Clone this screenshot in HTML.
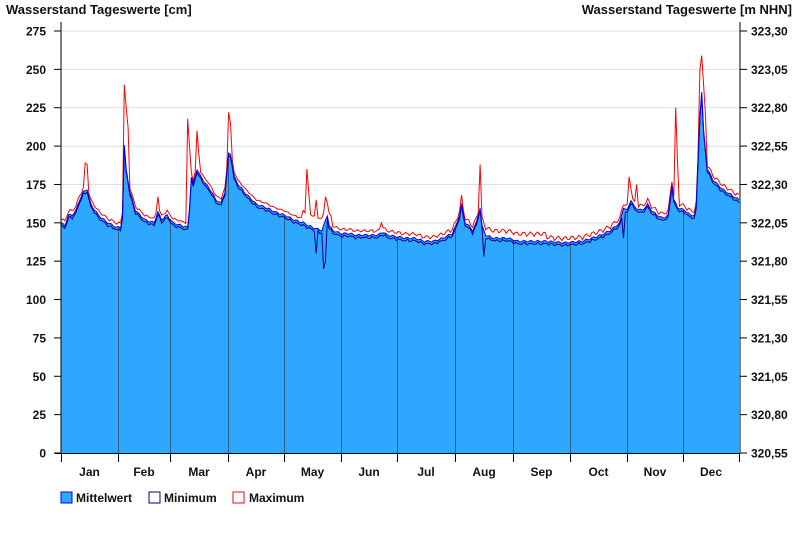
<!DOCTYPE html>
<html><head><meta charset="utf-8"><style>
body{margin:0;background:#fff;}
svg{display:block;font-family:"Liberation Sans",Arial,sans-serif;font-weight:bold;}
</style></head><body>
<svg id="s" width="800" height="550" viewBox="0 0 800 550">
<rect width="800" height="550" fill="#fff"/>
<text x="6" y="14" font-size="13" fill="#111">Wasserstand Tageswerte [cm]</text>
<text x="792" y="14" font-size="13" fill="#111" text-anchor="end">Wasserstand Tageswerte [m NHN]</text>
<g id="grid"></g>
<path id="area" fill="#2ea8ff" stroke="none"/>
<g id="msep"></g>
<path id="pmax" fill="none" stroke="#ff0000" stroke-width="1"/>
<path id="pmin" fill="none" stroke="#000080" stroke-width="1"/>
<path id="pmean" fill="none" stroke="#0000ff" stroke-width="1"/>
<g id="axes"></g>
<g font-size="12" fill="#111">
<rect x="61" y="492" width="11" height="11" fill="#2ea8ff" stroke="#0000ff"/>
<text x="76" y="502">Mittelwert</text>
<rect x="149" y="492" width="11" height="11" fill="#fff" stroke="#000080"/>
<text x="164" y="502">Minimum</text>
<rect x="233" y="492" width="11" height="11" fill="#fff" stroke="#ff0000"/>
<text x="249" y="502">Maximum</text>
</g>
</svg>
<script>
var NS="http://www.w3.org/2000/svg";
function el(p,t,a,txt){var e=document.createElementNS(NS,t);for(var k in a)e.setAttribute(k,a[k]);if(txt!==undefined)e.textContent=txt;document.getElementById(p).appendChild(e);return e;}
var X0=61,X1=739,Y0=453,PX=(X1-X0)/364;
function Y(v){return Y0-v*422/275;}
function X(d){return X0+d*PX;}
var K=[[0,150],[2,148],[4,155],[6,155],[8,158],[10,165],[12,170],[14,172],[16,162],[20,155],[25,150],[30,147],[32,147],[33,155],[34,200],[35,185],[37,170],[40,158],[45,152],[50,150],[52,157],[54,152],[57,155],[60,150],[65,148],[68,147],[69,160],[70,180],[71,175],[73,185],[75,180],[78,175],[81,170],[83,165],[86,163],[88,170],[90,195],[91,195],[93,180],[95,175],[100,168],[105,162],[110,160],[115,157],[120,155],[125,152],[130,150],[135,147],[140,145],[141,148],[143,155],[144,148],[146,145],[150,143],[155,143],[158,142],[165,142],[170,142],[173,144],[175,142],[180,141],[185,140],[190,140],[195,138],[200,138],[205,140],[210,143],[212,148],[214,155],[215,162],[217,150],[219,148],[221,145],[223,150],[225,160],[226,148],[228,142],[232,140],[240,140],[245,138],[250,138],[260,138],[270,137],[280,138],[285,140],[290,142],[295,145],[300,150],[302,160],[304,158],[306,165],[308,160],[312,158],[315,162],[317,158],[320,155],[323,153],[326,155],[328,175],[329,165],[331,160],[335,158],[338,155],[340,155],[341,160],[343,220],[344,235],[345,210],[347,185],[350,178],[355,172],[360,168],[364,165]];
function interp(d){for(var i=1;i<K.length;i++){if(d<=K[i][0]){var a=K[i-1],b=K[i];return a[1]+(b[1]-a[1])*(d-a[0])/(b[0]-a[0]);}}return K[K.length-1][1];}
var rl=["320,55","320,80","321,05","321,30","321,55","321,80","322,05","322,30","322,55","322,80","323,05","323,30"];
for(var i=0;i<=11;i++){var v=i*25,y=Y(v);
 if(i>0)el("grid","line",{x1:X0,x2:740,y1:y,y2:y,stroke:"#dddddd"});
 el("axes","line",{x1:54,x2:61,y1:y,y2:y,stroke:"#000"});
 el("axes","text",{x:46,y:y+4.5,"font-size":12,"text-anchor":"end",fill:"#111"},String(v));
 el("axes","line",{x1:740,x2:747,y1:y,y2:y,stroke:"#000"});
 el("axes","text",{x:751,y:y+4.5,"font-size":12,fill:"#111"},rl[i]);
}
el("axes","line",{x1:61,x2:61,y1:22,y2:454,stroke:"#000"});
el("axes","line",{x1:740,x2:740,y1:22,y2:454,stroke:"#000"});
el("axes","line",{x1:55,x2:740,y1:453.5,y2:453.5,stroke:"#000"});
var mx=[61,118,170,228,284,341,397,455,513,570,627,683,739];
var mn=["Jan","Feb","Mar","Apr","May","Jun","Jul","Aug","Sep","Oct","Nov","Dec"];
for(var i=0;i<13;i++){
 if(i>0&&i<12){var d=(mx[i]-X0)/PX;el("msep","line",{x1:mx[i]+.5,x2:mx[i]+.5,y1:Y(interp(d)),y2:453,stroke:"#2a5f80","stroke-width":1});}
 el("axes","line",{x1:mx[i]+.5,x2:mx[i]+.5,y1:453,y2:462,stroke:"#000"});
 if(i<12)el("axes","text",{x:(mx[i]+mx[i+1])/2,y:476,"font-size":12,"text-anchor":"middle",fill:"#111"},mn[i]);
}
var spk={13:189,14:188,34:240,35:225,36:212,52:167,68:218,69:200,73:210,74:195,90:222,91:215,132:180,133:165,137:160,142:162,172:150,215:168,225:186,305:180,306:172,309:175,330:225,331:190,343:250,344:259,345:240,346:220};
var dip={137:130,141:120,142:125,227:128,302:140};
var pm="",pn="",px="",ar="M"+X0+","+Y0;
for(var d=0;d<=364;d++){
 var m=interp(d)+Math.sin(d*1.7)*0.6;
 var mxv=m+1.5+Math.abs(Math.sin(d*2.3))*2; if(spk[d])mxv=spk[d];
 if(d>=130&&d<=145)mxv+=5; if(d>=225&&d<=260)mxv+=2;
 var mnv=m-1-Math.abs(Math.sin(d*1.3))*1; if(dip[d])mnv=dip[d];
 var x=X(d).toFixed(1);
 pm+=(d?"L":"M")+x+","+Y(m).toFixed(1);
 px+=(d?"L":"M")+x+","+Y(mxv).toFixed(1);
 pn+=(d?"L":"M")+x+","+Y(mnv).toFixed(1);
 ar+="L"+x+","+Y(m).toFixed(1);
}
ar+="L"+X1+","+Y0+"Z";
document.getElementById("area").setAttribute("d",ar);
document.getElementById("pmean").setAttribute("d",pm);
document.getElementById("pmax").setAttribute("d",px);
document.getElementById("pmin").setAttribute("d",pn);
</script>
</body></html>
